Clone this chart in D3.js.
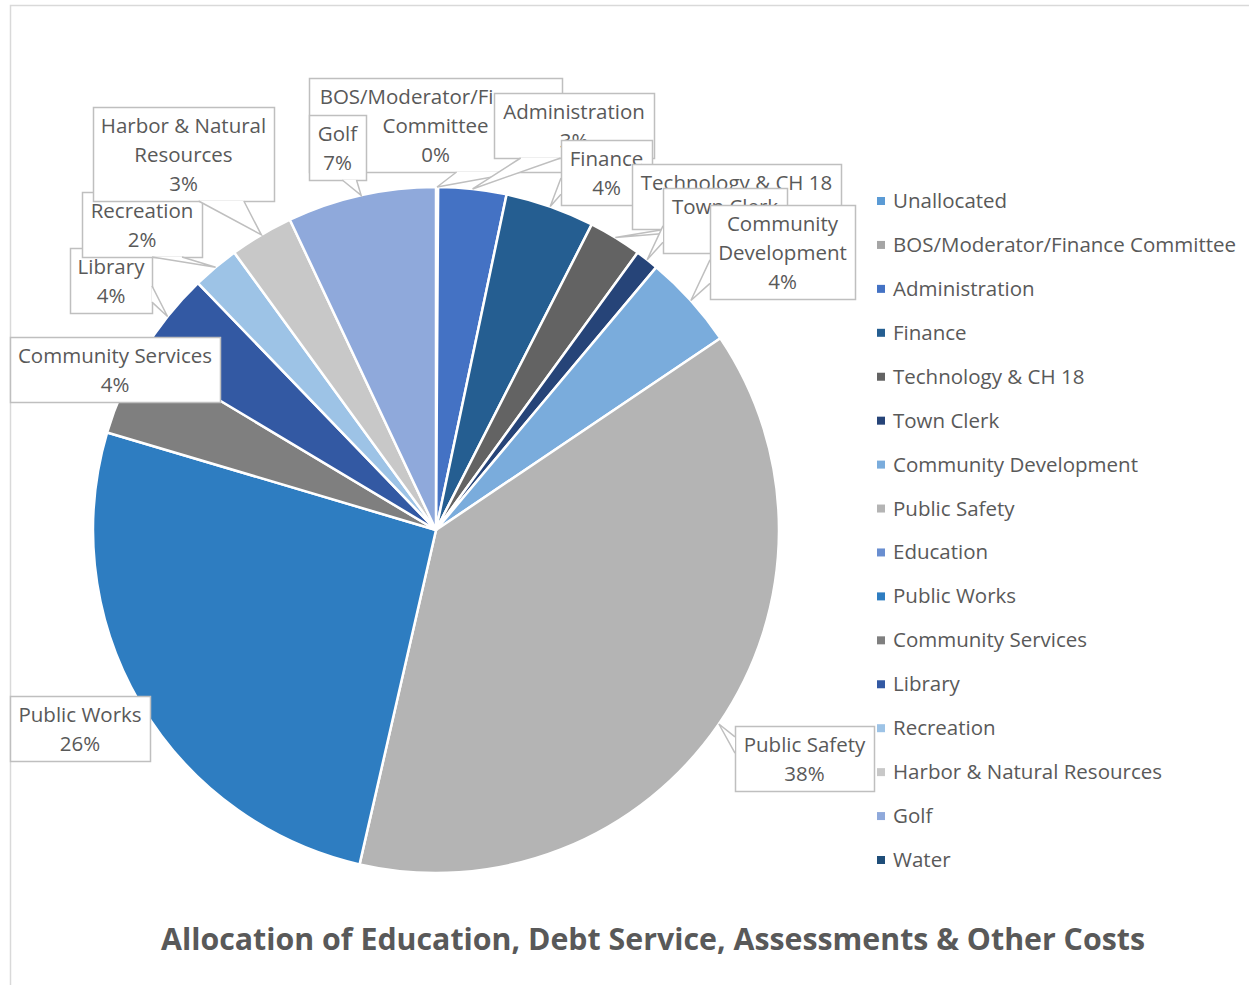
<html>
<head>
<meta charset="utf-8"/>
<title>Allocation of Education, Debt Service, Assessments & Other Costs</title>
<style>
body {margin: 0; background: #fff}
text {font-family: "Open Sans", sans-serif}
</style>
</head>
<body>
<div id="chart"></div>
<script src="https://d3js.org/d3.v7.min.js"></script>
<script>

// slices, clockwise from 12 o'clock (percent of total)
var categories = ["Unallocated", "BOS/Moderator/Finance Committee", "Administration", "Finance",
  "Technology & CH 18", "Town Clerk", "Community Development", "Public Safety", "Education",
  "Public Works", "Community Services", "Library", "Recreation", "Harbor & Natural Resources",
  "Golf", "Water"]
var values = [0, 0.1, 3.2, 4.2, 2.5, 1.1, 4.45, 38.0, 0, 26.0, 4.0, 4.2, 2.2, 3.0, 7.0, 0]
var colors = ["#5B9BD5", "#A5A5A5", "#4472C4", "#255E91", "#636363", "#264478", "#7AACDC",
  "#B4B4B4", "#698ED0", "#2E7DC1", "#7F7F7F", "#3359A3", "#9DC3E6", "#C8C8C8", "#8FA9DB", "#1F4E79"]

// wrapped name lines of each data callout
var labelLines = {
  "BOS/Moderator/Finance Committee": ["BOS/Moderator/Finance", "Committee"],
  "Administration": ["Administration"],
  "Finance": ["Finance"],
  "Technology & CH 18": ["Technology & CH 18"],
  "Town Clerk": ["Town Clerk"],
  "Community Development": ["Community", "Development"],
  "Public Safety": ["Public Safety"],
  "Public Works": ["Public Works"],
  "Community Services": ["Community Services"],
  "Library": ["Library"],
  "Recreation": ["Recreation"],
  "Harbor & Natural Resources": ["Harbor & Natural", "Resources"],
  "Golf": ["Golf"]
}
// callout boxes: left, top, width
var labelBox = {
  "BOS/Moderator/Finance Committee": [309, 78, 253],
  "Administration": [494, 93, 160],
  "Finance": [561, 140, 91],
  "Technology & CH 18": [632, 164, 209],
  "Town Clerk": [663, 188, 124],
  "Community Development": [710, 205, 145],
  "Public Safety": [735, 726, 139],
  "Public Works": [10, 696, 140],
  "Community Services": [10, 337, 210],
  "Library": [70, 248, 82],
  "Recreation": [82, 192, 120],
  "Harbor & Natural Resources": [93, 107, 181],
  "Golf": [309, 115, 57]
}

var width = 1249, height = 985
var cx = 436, cy = 530, radius = 343
var textColor = "#595959", lineColor = "#BFBFBF"
var fontSize = 20.5

var svg = d3.select("#chart").append("svg")
  .attr("width", width)
  .attr("height", height)

// chart area border
svg.append("rect")
  .attr("x", 10.5).attr("y", 5.5)
  .attr("width", 1400).attr("height", 1200)
  .attr("fill", "none")
  .attr("stroke", "#D9D9D9")
  .attr("stroke-width", 1.5)

var data = categories.map(function(c, i) { return {name: c, value: values[i], color: colors[i]} })
var total = d3.sum(values)
var pct = function(v) { return Math.round(v / total * 100) + "%" }

var pie = d3.pie().sort(null).value(function(d) { return d.value })
var arcs = pie(data)
var arc = d3.arc().innerRadius(0).outerRadius(radius)

var g = svg.append("g").attr("transform", "translate(" + cx + "," + cy + ")")
g.selectAll("path")
  .data(arcs.filter(function(d) { return d.data.value > 0 }))
  .enter()
  .append("path")
  .attr("d", arc)
  .attr("fill", function(d) { return d.data.color })
  .attr("stroke", "#fff")
  .attr("stroke-width", 2.5)
  .attr("stroke-linejoin", "round")

// data callouts, drawn in series order so later ones overlap earlier ones
var lineH = 28.8
arcs.forEach(function(d) {
  var name = d.data.name
  if (!labelBox[name]) return
  var lines = labelLines[name].concat([pct(d.data.value)])
  var b = labelBox[name]
  var x = b[0], y = b[1], w = b[2], h = lines.length * 29 + 7
  var mid = (d.startAngle + d.endAngle) / 2
  var tip = [cx + radius * Math.sin(mid), cy - radius * Math.cos(mid)]

  var cg = svg.append("g")
  cg.append("rect")
    .attr("x", x + 0.5).attr("y", y + 0.5)
    .attr("width", w).attr("height", h)
    .attr("fill", "#fff")
    .attr("stroke", lineColor)
    .attr("stroke-width", 1.5)

  // wedge pointing at the slice (like a rectangular callout)
  var inside = tip[0] > x && tip[0] < x + w && tip[1] > y && tip[1] < y + h
  if (!inside) {
    var dx = tip[0] - (x + w / 2), dy = tip[1] - (y + h / 2)
    var p1, p2
    if (Math.abs(dy) - Math.abs(dx) * h / w > 0) {
      var ey = dy > 0 ? y + h : y
      var a1 = dx > 0 ? 7 : 2, a2 = dx > 0 ? 10 : 5
      p1 = [x + w * a1 / 12, ey]; p2 = [x + w * a2 / 12, ey]
    } else {
      var ex = dx > 0 ? x + w : x
      var b1 = dy > 0 ? 7 : 2, b2 = dy > 0 ? 10 : 5
      p1 = [ex, y + h * b1 / 12]; p2 = [ex, y + h * b2 / 12]
    }
    cg.append("path")
      .attr("d", "M" + p1 + "L" + tip + "L" + p2 + "Z")
      .attr("fill", "#fff")
      .attr("stroke", "none")
    cg.append("path")
      .attr("d", "M" + p1 + "L" + tip + "L" + p2)
      .attr("fill", "none")
      .attr("stroke", lineColor)
      .attr("stroke-width", 1.5)
  }

  cg.selectAll("text")
    .data(lines)
    .enter()
    .append("text")
    .attr("x", x + w / 2)
    .attr("y", function(t, i) { return y + 19 + i * lineH + 7 })
    .attr("text-anchor", "middle")
    .attr("font-size", fontSize)
    .attr("fill", textColor)
    .text(function(t) { return t })
})

// legend
var legendY = d3.scalePoint().domain(categories).range([201, 860])
var lg = svg.append("g")
lg.selectAll("rect")
  .data(data)
  .enter()
  .append("rect")
  .attr("x", 877)
  .attr("y", function(d) { return legendY(d.name) - 4 })
  .attr("width", 8).attr("height", 8)
  .attr("fill", function(d) { return d.color })
lg.selectAll("text")
  .data(data)
  .enter()
  .append("text")
  .attr("x", 893)
  .attr("y", function(d) { return legendY(d.name) + 7 })
  .attr("font-size", fontSize)
  .attr("fill", textColor)
  .text(function(d) { return d.name })

// title
svg.append("text")
  .attr("x", 653)
  .attr("y", 950)
  .attr("text-anchor", "middle")
  .attr("font-size", 31)
  .attr("font-weight", "bold")
  .attr("fill", textColor)
  .attr("textLength", 984)
  .attr("lengthAdjust", "spacingAndGlyphs")
  .text("Allocation of Education, Debt Service, Assessments & Other Costs")

</script>
</body>
</html>
